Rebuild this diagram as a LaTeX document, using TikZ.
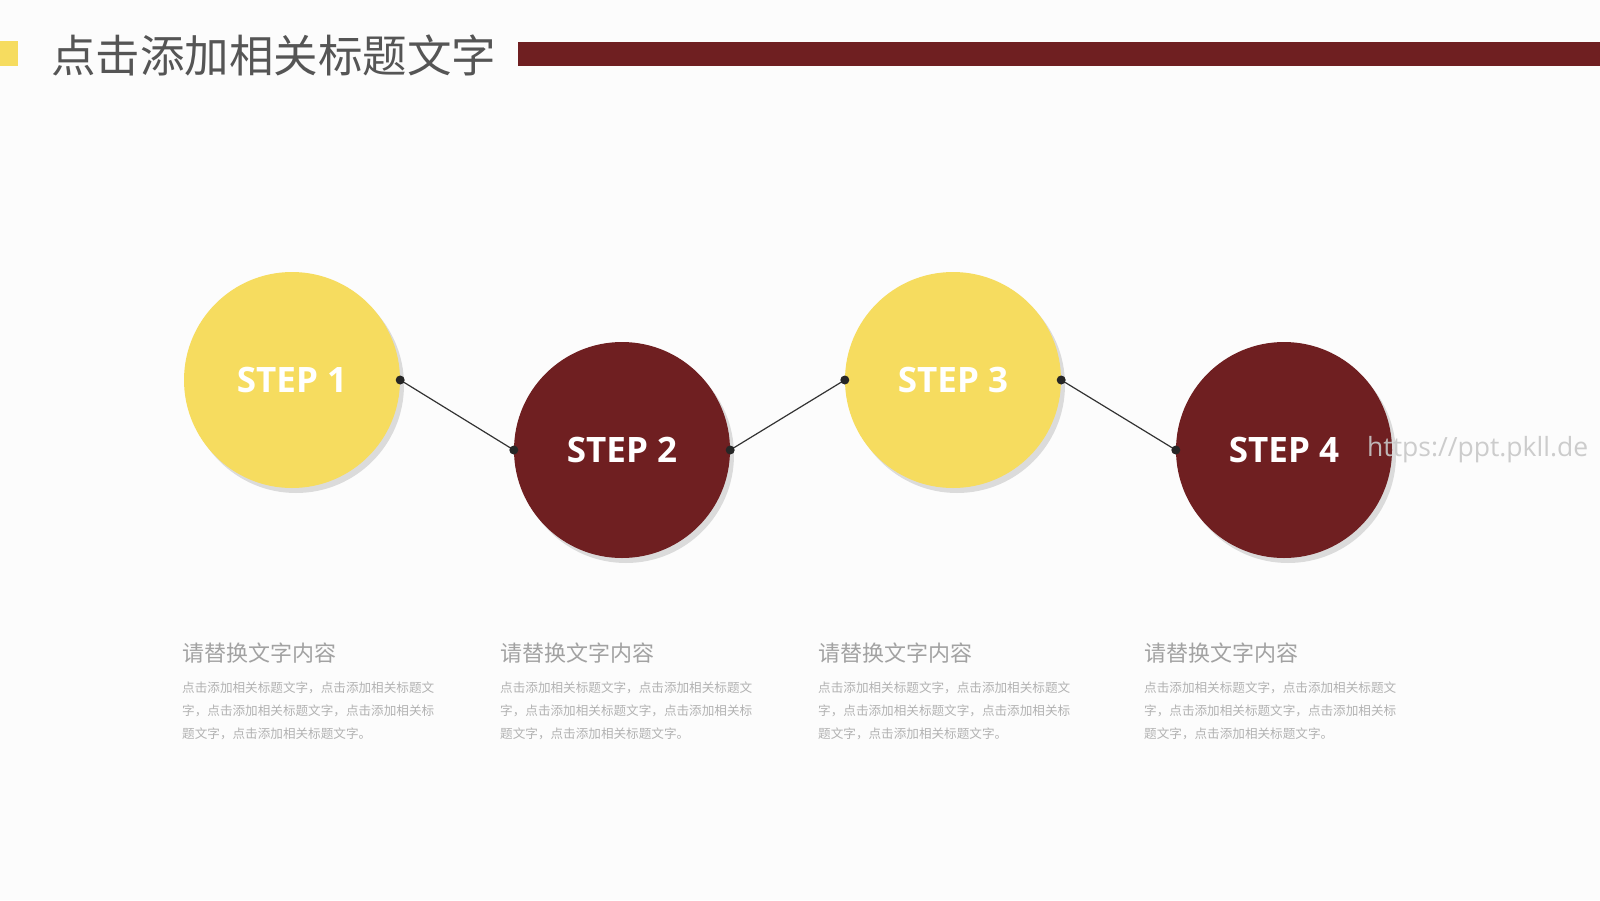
\documentclass[tikz,border=0pt]{standalone}
\usepackage{fontspec}
\setmainfont{Open Sans}
\newfontfamily\cjk{Noto Sans CJK SC}
\usetikzlibrary{positioning,shadows}
\definecolor{stepyellow}{HTML}{F6DC5F}
\definecolor{stepred}{HTML}{6F1F21}
\definecolor{titlegray}{HTML}{555555}
\definecolor{headgray}{HTML}{A2A2A2}
\definecolor{bodygray}{HTML}{B2B2B2}
\tikzset{
  stepbox/.style={circle, minimum size=216pt, inner sep=0pt,
                  text=white, font=\fontsize{35}{40}\selectfont\bfseries,
                  drop shadow={shadow xshift=4pt, shadow yshift=-5pt,
                               fill=black, opacity=0.13}},
  stepyel/.style={stepbox, fill=stepyellow},
  stepdark/.style={stepbox, fill=stepred},
  link/.style={draw=black!80, line width=1.2pt},
  junction/.style={fill=black!85},
  headtext/.style={anchor=west, inner sep=0pt, text=headgray,
                   font=\cjk\fontsize{22}{26}\selectfont},
  bodytext/.style={anchor=north west, inner sep=0pt, align=left, text=bodygray,
                   font=\cjk\fontsize{12.6}{23}\selectfont}
}

\begin{document}
\begin{tikzpicture}[x=1pt, y=-1pt]
    \useasboundingbox[fill=white!99!black] (0,0) rectangle (1600,900);

    % title bar
    \fill[stepyellow] (0,41) rectangle (18,66);
    \node[anchor=west, inner sep=0pt, text=titlegray,
          font=\cjk\fontsize{44.5}{50}\selectfont] (title) at (51,55) {点击添加相关标题文字};
    \fill[stepred] (518,42) rectangle (1600,66);

    % steps
    \node[stepyel] (s1) at (292,380) {STEP 1};
    \node[stepdark] (s2) at (622,450) {STEP 2};
    \node[stepyel] (s3) at (953,380) {STEP 3};
    \node[stepdark] (s4) at (1284,450) {STEP 4};

    \draw[link] (s1.east) -- (s2.west);
    \draw[link] (s2.east) -- (s3.west);
    \draw[link] (s3.east) -- (s4.west);
    \foreach \a/\b in {s1/s2,s2/s3,s3/s4} {
        \fill[junction] (\a.east) circle (4.5pt);
        \fill[junction] (\b.west) circle (4.5pt);
    }

    % captions
    \foreach \x/\n in {182/1,500/2,818/3,1144/4} {
        \node[headtext] (h\n) at (\x,653) {请替换文字内容};
        \node[bodytext] (b\n) at (\x,682)
            {点击添加相关标题文字，点击添加相关标题文\\
             字，点击添加相关标题文字，点击添加相关标\\
             题文字，点击添加相关标题文字。};
    }

    \node[anchor=west, inner sep=0pt, text=black!22, opacity=0.9,
          font=\fontsize{26.5}{30}\selectfont] (wm) at (1367,450) {https://ppt.pkll.de};
\end{tikzpicture}
\end{document}
